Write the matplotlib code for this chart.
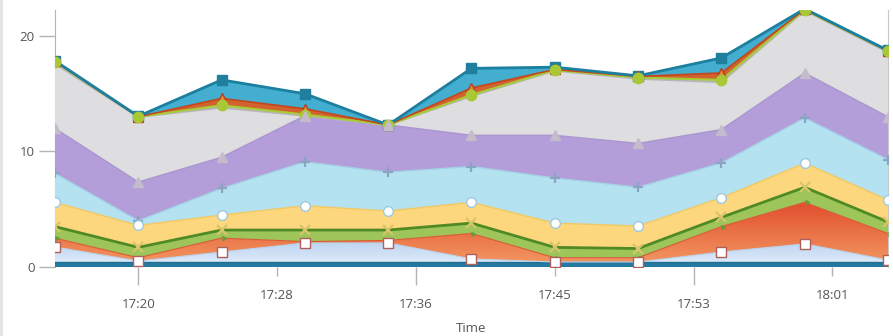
import matplotlib
matplotlib.use("Agg")
import matplotlib.pyplot as plt
import matplotlib.dates as mdates
from matplotlib.patches import Rectangle
from matplotlib.colors import LinearSegmentedColormap
import numpy as np
from datetime import datetime, timedelta

plt.rcParams['font.family'] = ['Open Sans', 'DejaVu Sans']

# Sample times (5-minute interval)
times = ["17:15", "17:20", "17:25", "17:30", "17:35", "17:40",
         "17:45", "17:50", "17:55", "18:00", "18:05"]

# Stacked series, bottom to top
base_load   = [0.40, 0.40, 0.40, 0.40, 0.40, 0.40, 0.40, 0.40, 0.40, 0.40, 0.40]
pale_blue   = [1.33, 0.12, 0.90, 1.68, 1.68, 0.30, 0.03, 0.03, 0.90, 1.60, 0.20]
orange_red  = [0.77, 0.28, 1.20, 0.12, 0.22, 2.20, 0.37, 0.37, 2.20, 3.60, 2.30]
leaf_green  = [1.00, 0.90, 0.70, 1.00, 0.90, 0.90, 0.90, 0.80, 0.80, 1.30, 1.00]
sand_yellow = [2.10, 1.90, 1.30, 2.10, 1.65, 1.80, 2.10, 1.95, 1.70, 2.10, 1.90]
sky_cyan    = [2.50, 0.40, 2.30, 3.80, 3.35, 3.10, 3.90, 3.35, 3.00, 3.90, 3.50]
lavender    = [3.90, 3.36, 2.70, 4.00, 4.10, 2.70, 3.70, 3.80, 2.90, 3.90, 3.70]
silver      = [5.60, 5.64, 4.30, 0.00, 0.00, 3.40, 5.60, 5.60, 4.10, 5.40, 5.60]
lime        = [0.15, 0.00, 0.20, 0.10, 0.00, 0.10, 0.05, 0.10, 0.20, 0.05, 0.10]
brick       = [0.05, 0.00, 0.60, 0.50, 0.00, 0.60, 0.05, 0.10, 0.60, 0.05, 0.00]
steel_teal  = [0.05, 0.05, 1.60, 1.30, 0.00, 1.70, 0.20, 0.05, 1.30, 0.05, 0.05]

tick_labels = ["17:20", "17:28", "17:36", "17:45", "17:53", "18:01"]
y_ticks = [0, 10, 20]

day = "2024-01-01 "
x = [datetime.strptime(day + t, "%Y-%m-%d %H:%M") for t in times]
xn = mdates.date2num(x)
YMAX = 22.25

# (values, fill, edge colour, edge width, marker, marker face, marker edge, marker size)
layers = [
    (base_load,   "#2479a0", "#1f6f93", 1.0, None, None, None, 0),
    (pale_blue,   ("#e4eefa", "#bcd4f1", 2.2), "#b9d2ee", 0.8, "s", "white", "#b0605a", 6.5),
    (orange_red,  ("#f49a63", "#e14f2e", 5.5), "#d85a35", 0.8, 9, "#6a9a3a", "#6a9a3a", 3.5),
    (leaf_green,  "#9dc55a", "#4f8a24", 2.0, "x", "#d8c46a", "#d8c46a", 6.5),
    (sand_yellow, "#fcd77e", "#f2c865", 1.0, "o", "white", "#9cc9e0", 7),
    (sky_cyan,    "#b4e2f0", "#a3d3e6", 1.0, "+", "#8aa4c4", "#8aa4c4", 6.5),
    (lavender,    "#b49ed9", "#a996cf", 1.0, "^", "#c4bccc", "#c4bccc", 6.5),
    (silver,      "#dedddf", "#b7b5b9", 1.5, None, None, None, 0),
    (lime,        "#b3d24a", "#a8cc38", 1.5, "o", "#a9c836", "#a9c836", 7.5),
    (brick,       "#d2622e", "#c2471c", 1.2, "^", "#e08a3c", "#b8401a", 6.5),
    (steel_teal,  "#43aed0", "#1d7f9f", 2.0, "s", "#1f7f9c", "#1f7f9c", 6.5),
]

fig = plt.figure(figsize=(8.93, 3.36), dpi=100)
ax = fig.add_axes([55 / 893, 1 - 267 / 336, 833 / 893, 257 / 336])

lower = np.zeros(len(times))
for i, (vals, fc, ec, lw, mk, mfc, mec, ms) in enumerate(layers):
    upper = lower + np.asarray(vals, dtype=float)
    if isinstance(fc, tuple):
        # vertical colour gradient clipped to the band
        c_lo, c_hi, y_hi = fc
        band = ax.fill_between(xn, lower, upper, facecolor="none", edgecolor="none")
        cmap = LinearSegmentedColormap.from_list("band%d" % i, [c_lo, c_hi])
        grad = np.linspace(0, 1, 256).reshape(-1, 1)
        im = ax.imshow(grad, cmap=cmap, aspect="auto", origin="lower",
                       extent=[xn[0], xn[-1], 0, y_hi], zorder=2 + i * 0.01)
        im.set_clip_path(band.get_paths()[0], transform=ax.transData)
        # region above the gradient extent keeps the top colour
        ax.fill_between(xn, np.maximum(lower, y_hi), np.maximum(upper, y_hi),
                        facecolor=c_hi, edgecolor="none", zorder=2 + i * 0.01)
    else:
        ax.fill_between(xn, lower, upper, facecolor=fc, edgecolor="none", zorder=2 + i * 0.01)
    ax.plot(xn, upper, color=ec, lw=lw, zorder=3 + i * 0.01, solid_joinstyle="miter")
    if mk is not None:
        # lower series' markers sit above those of the series stacked on them
        z = 6 - i * 0.01
        if mk in ("x", "+"):
            ax.plot(xn, upper, ls="none", marker=mk, ms=ms, mew=1.6, color=mec, zorder=z)
        else:
            ax.plot(xn, upper, ls="none", marker=mk, ms=ms, mfc=mfc, mec=mec, mew=1.0, zorder=z)
    lower = upper

ax.set_xlim(xn[0], xn[-1])
ax.set_ylim(0, YMAX)

# Axis styling
for side in ("top", "bottom"):
    ax.spines[side].set_visible(False)
ax.spines["left"].set_color("#b4b4b4")
ax.spines["right"].set_color("#c8c8c8")
ax.spines["left"].set_zorder(1)

ax.set_yticks(y_ticks)
ax.tick_params(axis="y", length=11.5, width=1.0, color="#b4b4b4", labelcolor="#555555",
               labelsize=9.5, pad=3)

start = datetime.strptime(day + tick_labels[0], "%Y-%m-%d %H:%M")
tick_pos = [mdates.date2num(start + timedelta(seconds=500 * k)) for k in range(len(tick_labels))]
ax.set_xticks(tick_pos[0::2])
ax.set_xticklabels(tick_labels[0::2])
ax.set_xticks(tick_pos[1::2], minor=True)
ax.set_xticklabels(tick_labels[1::2], minor=True)
ax.tick_params(axis="x", which="major", length=13, width=1.0, color="#b4b4b4",
               labelcolor="#555555", labelsize=9.5, pad=9)
ax.tick_params(axis="x", which="minor", length=6.5, width=1.0, color="#b4b4b4",
               labelcolor="#555555", labelsize=9.5, pad=9)

# axis title placed just under the staggered tick labels
fig.text((55 + 888) / 2 / 893, 1 - 328 / 336, "Time", ha="center", va="center",
         fontsize=9.5, color="#555555")

fig.patches.append(Rectangle((0, 0), 2.5 / 893, 1, transform=fig.transFigure,
                             facecolor="#e4e4e4", edgecolor="none"))

fig.savefig("out.png", dpi=100, facecolor="white")
